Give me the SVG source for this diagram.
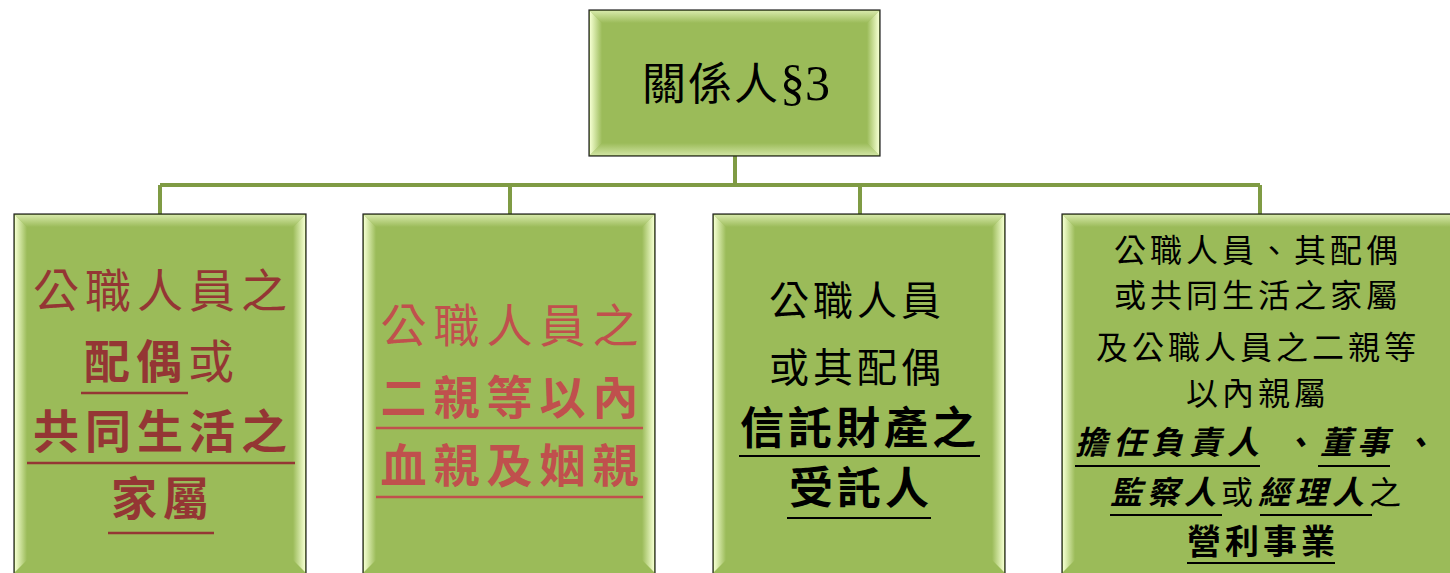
<svg xmlns="http://www.w3.org/2000/svg" width="1450" height="573" viewBox="0 0 1450 573">
<defs>
<linearGradient id="bl" x1="0" y1="0" x2="1" y2="0"><stop offset="0" stop-color="#F4FFD0"/><stop offset="1" stop-color="#9BBB59"/></linearGradient>
<linearGradient id="br" x1="1" y1="0" x2="0" y2="0"><stop offset="0" stop-color="#F4FFD0"/><stop offset="1" stop-color="#9BBB59"/></linearGradient>
<linearGradient id="bt" x1="0" y1="0" x2="0" y2="1"><stop offset="0" stop-color="#D6E8A8"/><stop offset="1" stop-color="#9BBB59"/></linearGradient>
<linearGradient id="bb" x1="0" y1="1" x2="0" y2="0"><stop offset="0" stop-color="#CFE3A0"/><stop offset="1" stop-color="#9BBB59"/></linearGradient>
</defs>
<style>
.box{fill:#9BBB59;stroke:#222;stroke-width:1.2}
.t{font-family:"Noto Sans CJK TC","Noto Sans CJK SC",sans-serif;text-anchor:middle}
.r1{fill:#943634}
.r2{fill:#C0504D}
.k{fill:#000}
.b{font-weight:bold}
.conn{stroke:#7F9B44;stroke-width:4;fill:none}
.ul1{stroke:#943634;stroke-width:2.5}
.ul2{stroke:#C0504D;stroke-width:2.5}
.ulk{stroke:#000;stroke-width:2}
</style>
<rect width="1450" height="573" fill="#fff"/>
<g id="connectors">
<path class="conn" d="M735 156V185M160 185H1260M160 185V214M510 185V214M860 185V214M1260 185V214"/>
</g>
<g id="n0">
<rect class="box" x="589" y="10" width="291" height="146"/>
<polygon points="590,11 879,11 867,23 602,23" fill="url(#bt)"/>
<polygon points="590,155 879,155 867,143 602,143" fill="url(#bb)"/>
<polygon points="590,11 602,23 602,143 590,155" fill="url(#bl)"/>
<polygon points="879,11 867,23 867,143 879,155" fill="url(#br)"/>
<text class="t k" x="736" y="100" font-size="44" letter-spacing="2">關係人<tspan font-family="'Liberation Serif',serif" font-size="50" letter-spacing="0">§3</tspan></text>
</g>
<g id="n1">
<rect class="box" x="14" y="214" width="292" height="370"/>
<polygon points="15,215 305,215 293,227 27,227" fill="url(#bt)"/>
<polygon points="15,215 27,227 27,560 15,572" fill="url(#bl)"/>
<polygon points="305,215 293,227 293,560 305,572" fill="url(#br)"/>
<text class="t r1" x="163" y="307" font-size="46" letter-spacing="6">公職人員之</text>
<text class="t r1" x="162" y="378" font-size="46" letter-spacing="6"><tspan class="b">配偶</tspan>或</text>
<line class="ul1" x1="81" y1="393" x2="188" y2="393"/>
<text class="t r1 b" x="163" y="448" font-size="46" letter-spacing="6">共同生活之</text>
<line class="ul1" x1="27" y1="463" x2="295" y2="463"/>
<text class="t r1 b" x="163" y="515" font-size="46" letter-spacing="6">家屬</text>
<line class="ul1" x1="108" y1="533" x2="214" y2="533"/>
</g>
<g id="n2">
<rect class="box" x="363" y="214" width="292" height="370"/>
<polygon points="364,215 654,215 642,227 376,227" fill="url(#bt)"/>
<polygon points="364,215 376,227 376,560 364,572" fill="url(#bl)"/>
<polygon points="654,215 642,227 642,560 654,572" fill="url(#br)"/>
<text class="t r2" x="513" y="342" font-size="46" letter-spacing="7">公職人員之</text>
<text class="t r2 b" x="513" y="414" font-size="46" letter-spacing="7">二親等以內</text>
<line class="ul2" x1="376" y1="428" x2="643" y2="428"/>
<text class="t r2 b" x="513" y="482" font-size="46" letter-spacing="7">血親及姻親</text>
<line class="ul2" x1="376" y1="497" x2="643" y2="497"/>
</g>
<g id="n3">
<rect class="box" x="713" y="214" width="292" height="370"/>
<polygon points="714,215 1004,215 992,227 726,227" fill="url(#bt)"/>
<polygon points="714,215 726,227 726,560 714,572" fill="url(#bl)"/>
<polygon points="1004,215 992,227 992,560 1004,572" fill="url(#br)"/>
<text class="t k" x="857" y="315" font-size="40" letter-spacing="4">公職人員</text>
<text class="t k" x="857" y="382" font-size="40" letter-spacing="4">或其配偶</text>
<text class="t k b" x="860" y="444" font-size="44" letter-spacing="4">信託財產之</text>
<line class="ulk" x1="739" y1="456" x2="980" y2="456"/>
<text class="t k b" x="861" y="504" font-size="44" letter-spacing="4">受託人</text>
<line class="ulk" x1="787" y1="518" x2="931" y2="518"/>
</g>
<g id="n4">
<rect class="box" x="1062" y="214" width="400" height="370"/>
<polygon points="1063,215 1450,215 1450,227 1075,227" fill="url(#bt)"/>
<polygon points="1063,215 1075,227 1075,560 1063,572" fill="url(#bl)"/>
<text class="t k" x="1258" y="262" font-size="32" letter-spacing="4">公職人員、其配偶</text>
<text class="t k" x="1258" y="307" font-size="32" letter-spacing="4">或共同生活之家屬</text>
<text class="t k" x="1258" y="359" font-size="32" letter-spacing="4">及公職人員之二親等</text>
<text class="t k" x="1258" y="405" font-size="32" letter-spacing="4">以內親屬</text>
<g class="t k b" font-size="32" font-style="italic" style="text-anchor:start">
<text x="1075" y="454" letter-spacing="6">擔任負責人</text>
<text x="1282" y="454">、</text>
<text x="1320" y="454" letter-spacing="5">董事</text>
<text x="1402" y="454">、</text>
<text x="1110" y="504" letter-spacing="5">監察人<tspan font-style="normal" font-weight="normal">或</tspan>經理人<tspan font-style="normal" font-weight="normal">之</tspan></text>
</g>
<line class="ulk" x1="1075" y1="466" x2="1260" y2="466"/>
<line class="ulk" x1="1318" y1="466" x2="1390" y2="466"/>
<line class="ulk" x1="1110" y1="515" x2="1222" y2="515"/>
<line class="ulk" x1="1260" y1="515" x2="1372" y2="515"/>
<text class="t k b" x="1263" y="554" font-size="34" letter-spacing="4">營利事業</text>
<line class="ulk" x1="1187" y1="563" x2="1335" y2="563"/>
</g>
</svg>
